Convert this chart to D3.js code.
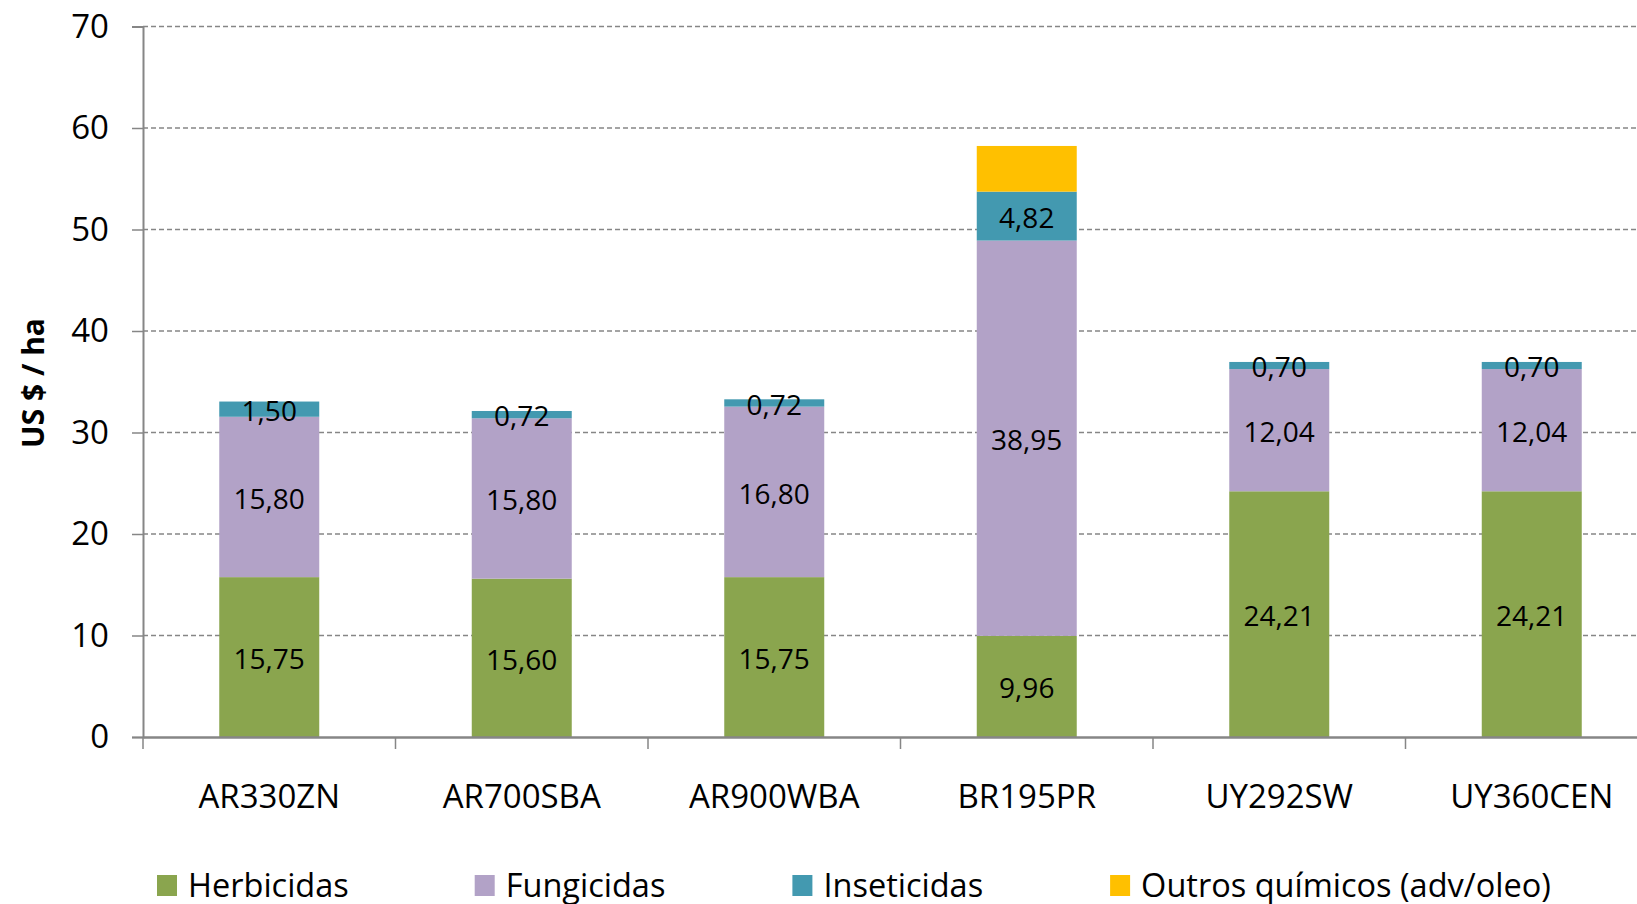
<!DOCTYPE html>
<html>
<head>
<meta charset="utf-8">
<script src="https://cdn.jsdelivr.net/npm/d3@7"></script>
<style>
  html, body { margin: 0; padding: 0; background: #fff; overflow: hidden; }
  svg { display: block; font-family: "Open Sans", sans-serif; }
</style>
</head>
<body>
<svg id="chart" width="1637" height="904"></svg>
<script>
const categories = ["AR330ZN", "AR700SBA", "AR900WBA", "BR195PR", "UY292SW", "UY360CEN"];
const herbicidas = [15.75, 15.60, 15.75, 9.96, 24.21, 24.21];
const fungicidas = [15.80, 15.80, 16.80, 38.95, 12.04, 12.04];
const inseticidas = [1.50, 0.72, 0.72, 4.82, 0.70, 0.70];
const outros = [0, 0, 0, 4.5, 0, 0];
const seriesNames = ["Herbicidas", "Fungicidas", "Inseticidas", "Outros químicos (adv/oleo)"];
const seriesColors = ["#8aa54e", "#b2a2c7", "#4399b0", "#ffc000"];
const labelled = [true, true, true, false];
const yTicks = [0, 10, 20, 30, 40, 50, 60, 70];
const yTitle = "US $ / ha";

const svg = d3.select("#chart");
const plotLeft = 143, plotBottom = 737, plotTop = 26.5, plotRight = 1658;

const x = d3.scaleBand().domain(categories).range([plotLeft, plotRight]).padding(0);
const y = d3.scaleLinear().domain([0, 70]).range([plotBottom, plotTop]);
const barW = x.bandwidth() * 0.396;

const rows = categories.map((c, i) => ({
  cat: c, s0: herbicidas[i], s1: fungicidas[i], s2: inseticidas[i], s3: outros[i]
}));
const stack = d3.stack().keys(["s0", "s1", "s2", "s3"]);
const layers = stack(rows);

// gridlines
svg.append("g").selectAll("line").data(yTicks.filter(t => t > 0)).join("line")
  .attr("x1", plotLeft).attr("x2", plotRight)
  .attr("y1", d => y(d)).attr("y2", d => y(d))
  .attr("stroke", "#868686").attr("stroke-width", 1.6)
  .attr("stroke-dasharray", "5,3");

// bars
const gBars = svg.append("g");
layers.forEach((layer, li) => {
  gBars.append("g").selectAll("rect").data(layer).join("rect")
    .attr("x", d => x(d.data.cat) + (x.bandwidth() - barW) / 2)
    .attr("width", barW)
    .attr("y", d => y(d[1]))
    .attr("height", d => Math.max(0, y(d[0]) - y(d[1])))
    .attr("fill", seriesColors[li]);
});

// data labels
const fmt = v => v.toFixed(2).replace(".", ",");
layers.forEach((layer, li) => {
  if (!labelled[li]) return;
  gBars.append("g").selectAll("text").data(layer.filter(d => d[1] - d[0] > 0)).join("text")
    .attr("x", d => x(d.data.cat) + x.bandwidth() / 2)
    .attr("y", d => y((d[0] + d[1]) / 2))
    .attr("dy", "0.42em")
    .attr("text-anchor", "middle")
    .attr("font-size", 28)
    .attr("fill", "#000")
    .text(d => fmt(d[1] - d[0]));
});

// y axis
const yAxis = svg.append("g").attr("transform", `translate(${plotLeft},0)`)
  .call(d3.axisLeft(y).tickValues(yTicks).tickSize(11).tickPadding(23));
yAxis.select(".domain").attr("stroke", "#868686").attr("stroke-width", 2);
yAxis.selectAll(".tick line").attr("stroke", "#868686").attr("stroke-width", 1.5);
yAxis.selectAll(".tick text").attr("font-size", 33).attr("font-family", "Open Sans").attr("fill", "#000");

// x axis
const xAxis = svg.append("g").attr("transform", `translate(0,${plotBottom})`)
  .call(d3.axisBottom(x).tickSize(0).tickPadding(47.6));
xAxis.select(".domain").attr("stroke", "#868686").attr("stroke-width", 2.5);
xAxis.selectAll(".tick text").attr("font-size", 33).attr("font-family", "Open Sans").attr("fill", "#000");
const bounds = categories.map(c => x(c)).concat([x.range()[1]]);
svg.append("g").selectAll("line").data(bounds).join("line")
  .attr("x1", d => d).attr("x2", d => d)
  .attr("y1", plotBottom).attr("y2", plotBottom + 12)
  .attr("stroke", "#868686").attr("stroke-width", 1.5);

// y title
svg.append("text")
  .attr("transform", "translate(44,383) rotate(-90)")
  .attr("text-anchor", "middle")
  .attr("font-size", 30).attr("font-weight", "bold")
  .attr("fill", "#000")
  .text(yTitle);

// legend
const legX = d3.scaleLinear().domain([0, 1]).range([157, 474.7]);
const leg = svg.append("g").selectAll("g").data(seriesNames).join("g")
  .attr("transform", (d, i) => `translate(${legX(i)},875)`);
leg.append("rect").attr("width", 20).attr("height", 21)
  .attr("fill", (d, i) => seriesColors[i]);
leg.append("text").attr("x", 31).attr("y", 22)
  .attr("font-size", 32.5).attr("fill", "#000")
  .text(d => d);
</script>
</body>
</html>
